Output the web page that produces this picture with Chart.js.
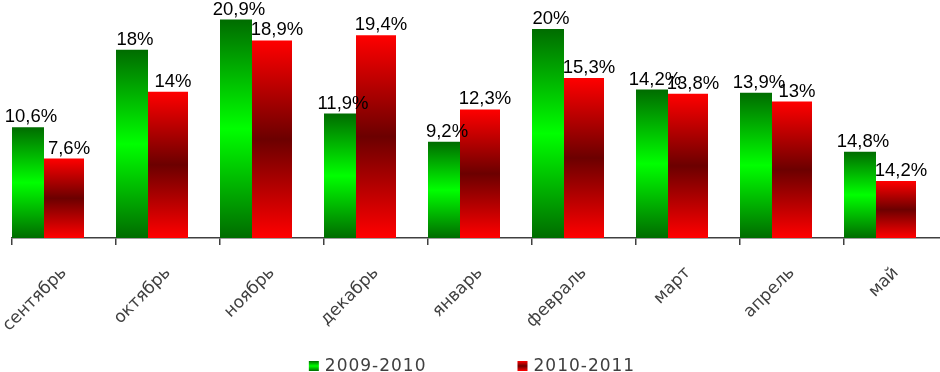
<!DOCTYPE html>
<html><head><meta charset="utf-8">
<script src="https://cdn.jsdelivr.net/npm/chart.js@4/dist/chart.umd.min.js"></script>
<style>html,body{margin:0;padding:0;background:#fff;overflow:hidden;width:940px;height:372px}</style>
</head><body>
<canvas id="c" width="948" height="372"></canvas>
<script>
// ---- data ----
const categories = ['сентябрь','октябрь','ноябрь','декабрь','январь','февраль','март','апрель','май'];
const seriesNames = ['2009-2010','2010-2011'];
const values2009 = [10.6, 18, 20.9, 11.9, 9.2, 20, 14.2, 13.9, 8.25];
const values2010 = [7.6, 14, 18.9, 19.4, 12.3, 15.3, 13.8, 13.05, 5.45];
const labels2009 = ['10,6%','18%','20,9%','11,9%','9,2%','20%','14,2%','13,9%','14,8%'];
const labels2010 = ['7,6%','14%','18,9%','19,4%','12,3%','15,3%','13,8%','13%','14,2%'];

// ---- styles ----
const greenStops = [[0,'#006c00'],[0.5,'#00ff00'],[1,'#006c00']];
const redStops = [[0,'#ff0000'],[0.5,'#6c0000'],[1,'#ff0000']];

function barGradient(c, stops) {
  const chart = c.chart;
  const y = chart.scales && chart.scales.y;
  if (!chart.chartArea || !y || c.raw == null) return stops[1][1];
  const top = y.getPixelForValue(c.raw), base = y.getPixelForValue(0);
  if (!isFinite(top) || !isFinite(base) || top === base) return stops[1][1];
  const g = chart.ctx.createLinearGradient(0, top, 0, base);
  stops.forEach(s => g.addColorStop(s[0], s[1]));
  return g;
}

const valueLabelPlugin = {
  id: 'valueLabels',
  afterDatasetsDraw(chart, args, opts) {
    const ctx = chart.ctx;
    ctx.save();
    ctx.font = opts.font;
    ctx.fillStyle = opts.color;
    ctx.textAlign = 'center';
    ctx.textBaseline = 'alphabetic';
    chart.data.datasets.forEach((ds, i) => {
      if (!ds.valueLabels) return;
      const meta = chart.getDatasetMeta(i);
      meta.data.forEach((bar, j) => {
        ctx.fillText(ds.valueLabels[j], bar.x + (ds.labelShift || 0), bar.y - opts.gap);
      });
    });
    ctx.restore();
  }
};

const bottomLegendPlugin = {
  id: 'bottomLegend',
  afterDraw(chart, args, opts) {
    const ctx = chart.ctx;
    const items = chart.data.datasets.filter(d => d.legendStops);
    ctx.save();
    ctx.font = opts.font;
    try { ctx.letterSpacing = opts.letterSpacing; } catch (e) {}
    const widths = items.map(d => ctx.measureText(d.label).width);
    const total = widths.reduce((a, w) => a + opts.box + opts.boxGap + w, 0) + opts.itemGap * (items.length - 1);
    let x = (opts.viewWidth - total) / 2 + opts.shift;
    items.forEach((d, i) => {
      const g = ctx.createLinearGradient(0, opts.boxTop, 0, opts.boxTop + opts.box);
      d.legendStops.forEach(s => g.addColorStop(s[0], s[1]));
      ctx.fillStyle = g;
      ctx.fillRect(x, opts.boxTop, opts.box, opts.box);
      x += opts.box + opts.boxGap;
      ctx.fillStyle = opts.color;
      ctx.textAlign = 'left';
      ctx.textBaseline = 'alphabetic';
      ctx.fillText(d.label, x, opts.baseline);
      x += widths[i] + opts.itemGap;
    });
    ctx.restore();
  }
};

new Chart(document.getElementById('c'), {
  type: 'bar',
  data: {
    labels: categories,
    datasets: [
      { label: seriesNames[0], data: values2009, valueLabels: labels2009, legendStops: greenStops, labelShift: 3,
        backgroundColor: c => barGradient(c, greenStops), borderWidth: 0,
        barPercentage: 32/36, categoryPercentage: 108/104 },
      { label: seriesNames[1], data: values2010, valueLabels: labels2010, legendStops: redStops, labelShift: 5,
        backgroundColor: c => barGradient(c, redStops), borderWidth: 0,
        barPercentage: 40/36, categoryPercentage: 108/104 },
      { label: '', data: [], backgroundColor: 'rgba(0,0,0,0)', borderWidth: 0,
        barPercentage: 1, categoryPercentage: 108/104 }
    ]
  },
  options: {
    responsive: false,
    devicePixelRatio: 1,
    animation: false,
    layout: { padding: { top: 8, left: 12, right: 0, bottom: 34 } },
    scales: {
      x: {
        grid: { offset: true, drawOnChartArea: false, drawTicks: true, tickLength: 7, color: '#404040', lineWidth: 1.5 },
        border: { display: true, color: '#404040', width: 1.5 },
        ticks: { autoSkip: false, minRotation: 45, maxRotation: 45, padding: 18, color: '#404040',
                 font: { family: 'DejaVu Sans', size: 17 } },
        afterFit: s => { s.height = 100; s.paddingLeft = 0; s.paddingRight = 0; }
      },
      y: { display: false, min: 0, max: 22 }
    },
    plugins: {
      legend: { display: false },
      tooltip: { enabled: false },
      valueLabels: { font: '18.5px "Liberation Sans", Arial, sans-serif', color: '#000', gap: 5 },
      bottomLegend: { font: '17px "DejaVu Sans"', letterSpacing: '1px', color: '#404040', viewWidth: 940,
                      box: 10, boxGap: 6, itemGap: 91, boxTop: 361, baseline: 370.5, shift: 2 }
    }
  },
  plugins: [valueLabelPlugin, bottomLegendPlugin]
});
</script>
</body></html>
